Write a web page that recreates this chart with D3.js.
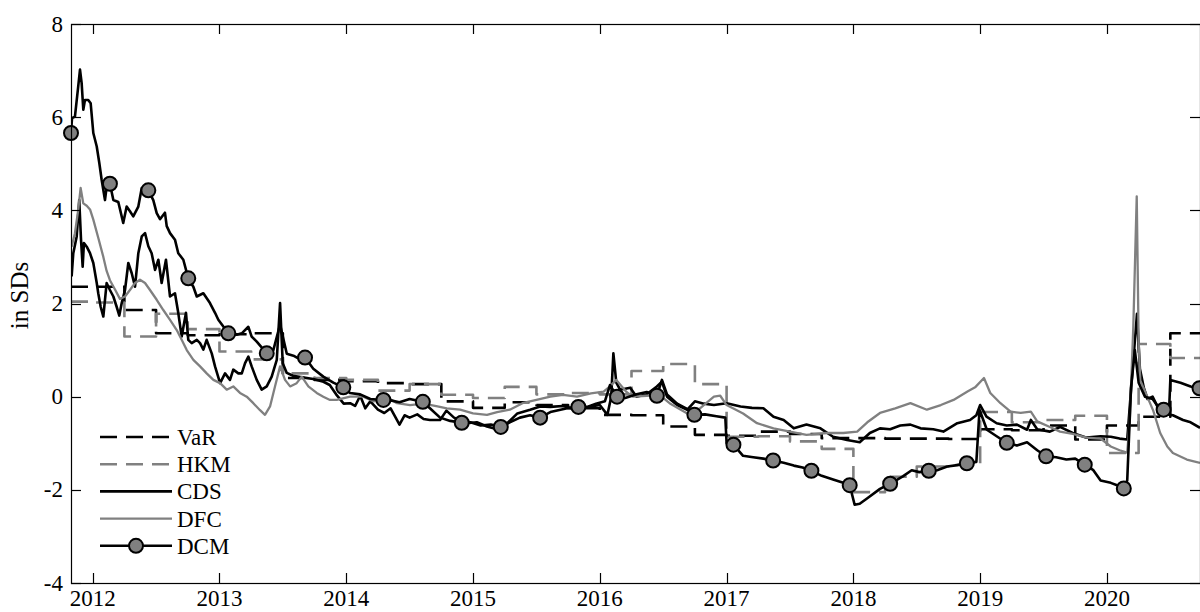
<!DOCTYPE html>
<html>
<head>
<meta charset="utf-8">
<script src="https://cdn.jsdelivr.net/npm/d3@7/dist/d3.min.js"></script>
<style>
body { margin: 0; background: #fff; }
text { font-family: "Liberation Serif", "Times New Roman", serif; fill: #000; }
</style>
</head>
<body>
<svg id="chart" width="1200" height="612"></svg>
<script>
// axis ticks
var xTicks = [2012, 2013, 2014, 2015, 2016, 2017, 2018, 2019, 2020];
var xTickLabels = ["2012", "2013", "2014", "2015", "2016", "2017", "2018", "2019", "2020"];
var yTicks = [-4, -2, 0, 2, 4, 6, 8];
var xRange = [2011.829, 2020.734];

// quarterly step series (start of each quarter)
var quarters = [2011.829, 2012.00, 2012.25, 2012.50, 2012.75, 2013.00, 2013.25, 2013.50, 2013.75,
	2014.00, 2014.25, 2014.50, 2014.75, 2015.00, 2015.25, 2015.50, 2015.75,
	2016.00, 2016.25, 2016.50, 2016.75, 2017.00, 2017.25, 2017.50, 2017.75,
	2018.00, 2018.25, 2018.50, 2018.75, 2019.00, 2019.25, 2019.50, 2019.75,
	2020.00, 2020.25, 2020.50];
var varSteps = [2.36, 2.36, 1.86, 1.36, 1.32, 1.34, 1.36, 0.40, 0.36,
	0.33, 0.29, 0.27, -0.10, -0.24, -0.12, -0.18, -0.25,
	-0.39, -0.40, -0.64, -0.82, -0.84, -0.75, -0.80, -0.89,
	-0.89, -0.90, -0.90, -0.91, -0.70, -0.72, -0.62, -0.92,
	-0.62, -0.43, 1.36];
var hkmSteps = [2.04, 2.02, 1.29, 1.78, 1.45, 0.97, 0.80, 0.50, 0.40,
	0.36, 0.13, 0.27, 0.04, -0.03, 0.21, 0.05, 0.08,
	0.05, 0.55, 0.70, 0.27, -0.86, -0.85, -0.96, -1.12,
	-2.05, -1.72, -1.50, -1.46, -0.33, -0.55, -0.50, -0.41,
	-1.21, 1.13, 0.83];

// daily-ish series: [year, value]
var cds = [[2011.834,2.58],[2011.847,3.08],[2011.874,3.44],[2011.894,4.22],[2011.908,3.37],[2011.921,2.79],
	[2011.931,3.30],[2011.953,3.22],[2011.979,3.08],[2012.005,2.87],[2012.032,2.44],[2012.044,2.22],
	[2012.063,1.93],[2012.084,1.72],[2012.097,2.08],[2012.110,2.44],[2012.136,2.29],[2012.163,2.15],
	[2012.189,1.93],[2012.210,1.74],[2012.229,2.01],[2012.255,2.29],[2012.281,2.87],[2012.308,2.65],
	[2012.334,2.36],[2012.360,3.08],[2012.387,3.44],[2012.413,3.51],[2012.439,3.23],[2012.465,3.08],
	[2012.492,2.72],[2012.518,2.94],[2012.544,2.44],[2012.578,2.94],[2012.610,2.15],[2012.649,2.22],
	[2012.675,1.80],[2012.702,1.29],[2012.736,1.80],[2012.754,1.22],[2012.781,1.15],[2012.821,1.22],
	[2012.847,1.15],[2012.873,1.01],[2012.899,1.22],[2012.939,0.93],[2012.965,0.65],[2013.005,0.29],
	[2013.044,0.50],[2013.083,0.36],[2013.109,0.58],[2013.149,0.50],[2013.176,0.50],[2013.202,0.72],
	[2013.228,0.86],[2013.254,0.65],[2013.294,0.36],[2013.333,0.15],[2013.373,0.22],[2013.412,0.43],
	[2013.452,0.79],[2013.478,2.01],[2013.499,0.72],[2013.531,0.51],[2013.58,0.45],[2013.64,0.42],
	[2013.74,0.38],[2013.82,0.32],[2013.87,0.25],[2013.92,0.05],[2013.98,-0.15],[2014.03,-0.14],
	[2014.07,-0.20],[2014.11,0.02],[2014.15,-0.25],[2014.19,-0.10],[2014.25,-0.28],[2014.30,-0.35],
	[2014.35,-0.25],[2014.42,-0.60],[2014.46,-0.40],[2014.50,-0.45],[2014.56,-0.38],[2014.61,-0.48],
	[2014.66,-0.50],[2014.74,-0.50],[2014.79,-0.30],[2014.85,-0.45],[2014.95,-0.57],[2015.03,-0.55],
	[2015.11,-0.64],[2015.19,-0.70],[2015.27,-0.57],[2015.35,-0.36],[2015.45,-0.28],[2015.53,-0.21],
	[2015.61,-0.22],[2015.71,-0.20],[2015.82,-0.28],[2015.93,-0.21],[2016.00,-0.18],[2016.06,-0.39],
	[2016.09,0.00],[2016.107,0.93],[2016.13,0.30],[2016.16,0.15],[2016.24,0.19],[2016.29,0.00],
	[2016.37,0.05],[2016.45,0.22],[2016.49,0.32],[2016.53,0.00],[2016.61,-0.18],[2016.69,-0.28],
	[2016.75,-0.10],[2016.82,-0.15],[2016.90,-0.18],[2017.00,-0.14],[2017.11,-0.21],[2017.20,-0.24],
	[2017.29,-0.25],[2017.37,-0.43],[2017.45,-0.50],[2017.53,-0.68],[2017.63,-0.60],[2017.74,-0.68],
	[2017.84,-0.86],[2017.95,-0.93],[2018.05,-0.98],[2018.13,-0.78],[2018.21,-0.68],[2018.29,-0.70],
	[2018.37,-0.62],[2018.45,-0.60],[2018.53,-0.68],[2018.63,-0.70],[2018.71,-0.75],[2018.82,-0.57],
	[2018.92,-0.50],[2018.97,-0.40],[2019.00,-0.18],[2019.05,-0.43],[2019.13,-0.57],[2019.21,-0.62],
	[2019.29,-0.60],[2019.37,-0.71],[2019.40,-0.50],[2019.45,-0.70],[2019.55,-0.75],[2019.63,-0.65],
	[2019.73,-0.78],[2019.84,-0.88],[2019.95,-0.85],[2020.03,-0.86],[2020.10,-0.90],[2020.16,-0.92],
	[2020.20,0.50],[2020.237,1.78],[2020.26,0.60],[2020.29,0.20],[2020.32,-0.05],[2020.36,0.00],
	[2020.40,-0.22],[2020.45,-0.37],[2020.52,-0.40],[2020.60,-0.50],[2020.66,-0.55],[2020.734,-0.67]];

var dfc = [[2011.834,3.22],[2011.860,3.51],[2011.886,4.01],[2011.905,4.48],[2011.926,4.15],[2011.953,4.10],
	[2011.979,4.02],[2012.005,3.80],[2012.045,3.40],[2012.084,3.00],[2012.110,2.70],[2012.136,2.50],
	[2012.176,2.30],[2012.215,2.10],[2012.255,2.15],[2012.294,2.29],[2012.334,2.44],[2012.373,2.51],
	[2012.413,2.44],[2012.452,2.29],[2012.505,2.08],[2012.557,1.86],[2012.610,1.65],[2012.663,1.43],
	[2012.702,1.22],[2012.742,1.00],[2012.794,0.79],[2012.847,0.65],[2012.899,0.50],[2012.952,0.36],
	[2013.005,0.29],[2013.057,0.15],[2013.109,0.22],[2013.162,0.08],[2013.215,0.00],[2013.267,-0.14],
	[2013.320,-0.29],[2013.359,-0.39],[2013.399,-0.21],[2013.438,0.22],[2013.478,0.65],[2013.517,0.36],
	[2013.557,0.22],[2013.609,0.29],[2013.649,0.43],[2013.701,0.22],[2013.767,0.08],[2013.819,0.00],
	[2013.872,-0.07],[2013.925,-0.07],[2014.03,0.00],[2014.134,0.00],[2014.213,-0.10],[2014.346,-0.05],
	[2014.40,-0.14],[2014.503,-0.18],[2014.61,-0.15],[2014.72,-0.21],[2014.793,-0.25],[2014.898,-0.28],
	[2015.00,-0.36],[2015.11,-0.39],[2015.19,-0.33],[2015.29,-0.28],[2015.39,-0.14],[2015.50,-0.07],
	[2015.61,0.00],[2015.71,0.04],[2015.82,0.00],[2015.93,0.07],[2016.03,0.11],[2016.08,0.22],
	[2016.13,0.36],[2016.21,0.10],[2016.26,0.00],[2016.37,0.02],[2016.47,0.04],[2016.55,-0.14],
	[2016.69,-0.36],[2016.79,-0.25],[2016.90,0.00],[2016.95,0.02],[2017.00,-0.18],[2017.05,-0.25],
	[2017.13,-0.36],[2017.24,-0.57],[2017.37,-0.68],[2017.50,-0.75],[2017.63,-0.82],[2017.79,-0.78],
	[2017.92,-0.78],[2018.03,-0.75],[2018.11,-0.55],[2018.21,-0.35],[2018.33,-0.25],[2018.45,-0.14],
	[2018.58,-0.28],[2018.69,-0.18],[2018.79,-0.07],[2018.90,0.11],[2018.96,0.20],[2019.03,0.40],
	[2019.08,0.08],[2019.16,-0.14],[2019.24,-0.32],[2019.32,-0.35],[2019.40,-0.32],[2019.45,-0.53],
	[2019.55,-0.65],[2019.63,-0.75],[2019.73,-0.80],[2019.84,-0.88],[2019.95,-0.90],[2020.03,-1.07],
	[2020.10,-1.15],[2020.16,-1.20],[2020.18,-0.50],[2020.208,1.50],[2020.235,4.30],[2020.25,1.20],
	[2020.263,0.35],[2020.318,0.00],[2020.365,-0.30],[2020.42,-0.78],[2020.476,-1.07],[2020.52,-1.21],
	[2020.63,-1.35],[2020.734,-1.42]];

var dcm = [[2011.829,5.66],[2011.837,5.98],[2011.860,6.01],[2011.886,6.66],[2011.900,7.02],[2011.913,6.73],
	[2011.926,6.16],[2011.939,6.37],[2011.965,6.37],[2011.984,6.30],[2012.005,5.66],[2012.032,5.37],
	[2012.052,5.02],[2012.071,4.65],[2012.097,4.22],[2012.110,4.50],[2012.136,4.57],[2012.163,4.22],
	[2012.202,4.18],[2012.241,3.73],[2012.268,4.08],[2012.294,3.98],[2012.320,3.87],[2012.360,4.08],
	[2012.387,4.48],[2012.439,4.43],[2012.478,4.22],[2012.505,3.94],[2012.531,3.81],[2012.570,3.95],
	[2012.584,3.66],[2012.610,3.51],[2012.649,3.37],[2012.675,3.08],[2012.715,2.94],[2012.754,2.54],
	[2012.794,2.36],[2012.821,2.15],[2012.873,2.22],[2012.925,2.01],[2012.965,1.80],[2012.991,1.65],
	[2013.070,1.36],[2013.136,1.33],[2013.176,1.36],[2013.228,1.50],[2013.254,1.29],[2013.294,1.18],
	[2013.373,0.93],[2013.425,1.00],[2013.464,1.40],[2013.478,1.55],[2013.531,0.92],[2013.583,0.88],
	[2013.636,0.80],[2013.675,0.84],[2013.740,0.60],[2013.819,0.43],[2013.898,0.30],[2013.977,0.20],
	[2014.03,0.08],[2014.11,0.05],[2014.19,-0.05],[2014.293,-0.07],[2014.35,-0.08],[2014.42,-0.12],
	[2014.50,-0.05],[2014.604,-0.11],[2014.66,-0.25],[2014.74,-0.45],[2014.82,-0.52],[2014.911,-0.56],
	[2014.98,-0.55],[2015.06,-0.62],[2015.14,-0.60],[2015.219,-0.65],[2015.29,-0.55],[2015.37,-0.45],
	[2015.45,-0.40],[2015.529,-0.45],[2015.61,-0.33],[2015.69,-0.28],[2015.76,-0.24],[2015.831,-0.22],
	[2015.90,-0.22],[2015.97,-0.15],[2016.04,-0.10],[2016.08,0.25],[2016.136,0.00],[2016.20,-0.03],
	[2016.29,0.05],[2016.37,0.10],[2016.45,0.02],[2016.49,0.36],[2016.53,0.05],[2016.61,-0.15],
	[2016.68,-0.25],[2016.746,-0.39],[2016.83,-0.38],[2016.92,-0.42],[2016.99,-0.45],[2017.00,-1.00],
	[2017.054,-1.03],[2017.13,-1.27],[2017.21,-1.30],[2017.29,-1.33],[2017.367,-1.37],[2017.45,-1.42],
	[2017.53,-1.48],[2017.60,-1.52],[2017.669,-1.59],[2017.75,-1.70],[2017.84,-1.78],[2017.92,-1.85],
	[2017.971,-1.90],[2018.01,-2.32],[2018.05,-2.30],[2018.11,-2.18],[2018.21,-1.98],[2018.29,-1.87],
	[2018.39,-1.71],[2018.46,-1.58],[2018.52,-1.62],[2018.595,-1.59],[2018.66,-1.58],[2018.74,-1.50],
	[2018.82,-1.47],[2018.895,-1.43],[2018.97,-1.40],[2018.995,-0.28],[2019.053,-0.71],[2019.13,-0.85],
	[2019.21,-0.99],[2019.29,-1.05],[2019.37,-0.98],[2019.45,-1.15],[2019.52,-1.28],[2019.60,-1.30],
	[2019.68,-1.35],[2019.75,-1.33],[2019.825,-1.46],[2019.89,-1.57],[2019.95,-1.80],[2020.03,-1.85],
	[2020.08,-1.90],[2020.133,-1.97],[2020.16,-1.80],[2020.19,0.20],[2020.22,1.00],[2020.25,0.30],
	[2020.30,0.00],[2020.36,-0.05],[2020.40,-0.20],[2020.447,-0.28],[2020.49,-0.30],[2020.50,0.36],
	[2020.58,0.30],[2020.66,0.22],[2020.73,0.18]];

// DCM points that carry a marker
var dcmMarkerYears = [2011.829, 2012.136, 2012.439, 2012.754, 2013.070, 2013.373, 2013.675, 2013.977,
	2014.293, 2014.604, 2014.911, 2015.219, 2015.529, 2015.831, 2016.136, 2016.45, 2016.746,
	2017.054, 2017.367, 2017.669, 2017.971, 2018.29, 2018.595, 2018.895, 2019.21, 2019.52,
	2019.825, 2020.133, 2020.447, 2020.73];

var legendNames = ["VaR", "HKM", "CDS", "DFC", "DCM"];

var cfg = { left: 71, right: 1200, top: 24, bottom: 583, tick: 10 };
var grey = "#808080";

var svg = d3.select("#chart");

var x = d3.scaleLinear().domain(xRange).range([cfg.left, cfg.right]);
var y = d3.scaleLinear().domain([-4, 8]).range([cfg.bottom, cfg.top]);

svg.append("clipPath").attr("id", "plot")
	.append("rect")
	.attr("x", cfg.left).attr("y", cfg.top)
	.attr("width", cfg.right - cfg.left).attr("height", cfg.bottom - cfg.top);

function stepData(vals) {
	var pts = quarters.map(function(q, i) { return [q, vals[i]]; });
	pts.push([xRange[1], vals[vals.length - 1]]);
	return pts;
}

var line = d3.line()
	.x(function(d) { return x(d[0]); })
	.y(function(d) { return y(d[1]); });

var stepLine = d3.line()
	.curve(d3.curveStepAfter)
	.x(function(d) { return x(d[0]); })
	.y(function(d) { return y(d[1]); });

var plot = svg.append("g").attr("clip-path", "url(#plot)");

var styles = {
	VaR: { stroke: "#000", width: 2.6, dash: "17,9" },
	HKM: { stroke: grey, width: 2.6, dash: "17,9" },
	CDS: { stroke: "#000", width: 2.6, dash: null },
	DFC: { stroke: grey, width: 2.3, dash: null },
	DCM: { stroke: "#000", width: 2.6, dash: null }
};

function draw(path, name) {
	plot.append("path")
	.attr("d", path)
	.attr("fill", "none")
	.attr("stroke", styles[name].stroke)
	.attr("stroke-width", styles[name].width)
	.attr("stroke-dasharray", styles[name].dash)
	.attr("stroke-linejoin", "round");
}

draw(stepLine(stepData(varSteps)), "VaR");
draw(stepLine(stepData(hkmSteps)), "HKM");
draw(line(cds), "CDS");
draw(line(dfc), "DFC");
draw(line(dcm), "DCM");

var markers = dcm.filter(function(d) { return dcmMarkerYears.indexOf(d[0]) >= 0; });

svg.append("g").selectAll("circle")
	.data(markers)
	.enter().append("circle")
	.attr("cx", function(d) { return x(d[0]); })
	.attr("cy", function(d) { return y(d[1]); })
	.attr("r", 7)
	.attr("fill", grey)
	.attr("stroke", "#000")
	.attr("stroke-width", 2);

// axes box and ticks (ticks point inward, MATLAB style)
var axes = svg.append("g").attr("stroke", "#000").attr("stroke-width", 1.2);

axes.append("rect")
	.attr("x", cfg.left + 0.5).attr("y", cfg.top + 0.5)
	.attr("width", cfg.right - cfg.left).attr("height", cfg.bottom - cfg.top)
	.attr("fill", "none");

xTicks.forEach(function(t) {
	var px = Math.round(x(t)) + 0.5;
	axes.append("line").attr("x1", px).attr("x2", px)
	.attr("y1", cfg.bottom).attr("y2", cfg.bottom - cfg.tick);
	axes.append("line").attr("x1", px).attr("x2", px)
	.attr("y1", cfg.top).attr("y2", cfg.top + cfg.tick);
});

yTicks.forEach(function(t) {
	var py = Math.round(y(t)) + 0.5;
	axes.append("line").attr("x1", cfg.left).attr("x2", cfg.left + cfg.tick)
	.attr("y1", py).attr("y2", py);
	axes.append("line").attr("x1", cfg.right).attr("x2", cfg.right - cfg.tick)
	.attr("y1", py).attr("y2", py);
});

svg.append("g").selectAll("text")
	.data(xTicks)
	.enter().append("text")
	.attr("x", function(d) { return x(d); })
	.attr("y", 606)
	.attr("text-anchor", "middle")
	.style("font-size", "23px")
	.text(function(d, i) { return xTickLabels[i]; });

svg.append("g").selectAll("text")
	.data(yTicks)
	.enter().append("text")
	.attr("x", cfg.left - 8)
	.attr("y", function(d) { return y(d); })
	.attr("dy", "0.33em")
	.attr("text-anchor", "end")
	.style("font-size", "23px")
	.text(function(d) { return String(d); });

svg.append("text")
	.attr("transform", "translate(28," + ((cfg.top + cfg.bottom) / 2 - 8) + ") rotate(-90)")
	.attr("text-anchor", "middle")
	.style("font-size", "25px")
	.text("in SDs");

// legend, no box
var legend = svg.append("g").selectAll("g")
	.data(legendNames)
	.enter().append("g")
	.attr("transform", function(d, i) { return "translate(100," + (437 + i * 27.2) + ")"; });

legend.append("line")
	.attr("x1", 0).attr("x2", 72)
	.attr("stroke", function(d) { return styles[d].stroke; })
	.attr("stroke-width", function(d) { return styles[d].width; })
	.attr("stroke-dasharray", function(d) { return styles[d].dash; });

legend.filter(function(d) { return d === "DCM"; })
	.append("circle")
	.attr("cx", 36).attr("r", 7)
	.attr("fill", grey).attr("stroke", "#000").attr("stroke-width", 2);

legend.append("text")
	.attr("x", 77)
	.attr("dy", "0.35em")
	.style("font-size", "23px")
	.text(function(d) { return d; });
</script>
</body>
</html>
